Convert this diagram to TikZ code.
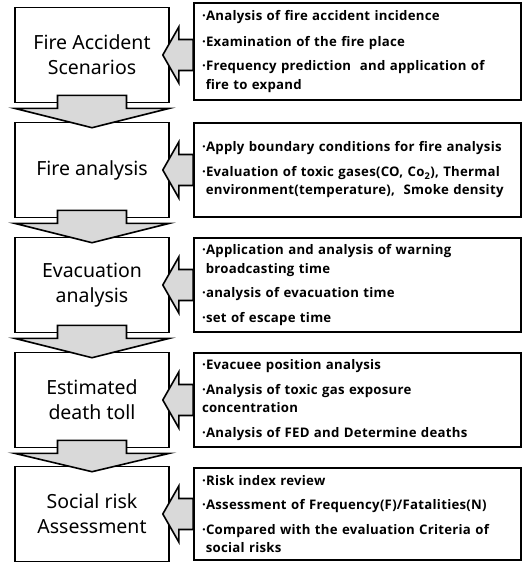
\documentclass[tikz,border=0pt]{standalone}
\usepackage{fontspec}
\setmainfont{Noto Sans}
\newfontfamily\notefont[LetterSpace=2]{Open Sans}
\usetikzlibrary{calc}

\newcommand{\dotpad}{\phantom{\textperiodcentered}}

\tikzset{
  stage/.style={draw, line width=1.6pt, minimum width=154pt, minimum height=95pt,
    align=center, inner sep=0pt, font=\fontsize{19.5}{25}\selectfont},
  notes/.style={draw, line width=1.6pt, text width=311pt, inner xsep=8pt,
    align=left, font=\notefont\bfseries\fontsize{13.2}{18.5}\selectfont},
  flow/.style={draw, line width=1.6pt, fill=gray!30, line join=miter},
}

\begin{document}
\begin{tikzpicture}[x=1pt,y=-1pt]
\useasboundingbox (0,0) rectangle (523,562);

\node[stage] (scen)  at (92,55)  {Fire Accident\\Scenarios};
\node[stage] (fire)  at (92,170) {Fire analysis};
\node[stage] (evac)  at (92,285) {Evacuation\\analysis};
\node[stage] (death) at (92,400) {Estimated\\death toll};
\node[stage] (risk)  at (92,514) {Social risk\\Assessment};

\node[notes, minimum height=97pt] (scenTxt) at (357.5,51.5) {%
  \textperiodcentered Analysis of fire accident incidence\\[7pt]
  \textperiodcentered Examination of the fire place\\[6pt]
  \textperiodcentered Frequency prediction\ \ and application of\\
  \dotpad fire to expand};
\node[notes, minimum height=94pt] (fireTxt) at (357.5,170) {%
  \textperiodcentered Apply boundary conditions for fire analysis\\[6pt]
  \textperiodcentered Evaluation of toxic gases(CO, Co\textsubscript{2}), Thermal\\
  \dotpad environment(temperature),\ \ Smoke density};
\node[notes, minimum height=94pt] (evacTxt) at (357.5,285) {%
  \textperiodcentered Application and analysis of warning\\
  \dotpad broadcasting time\\[6pt]
  \textperiodcentered analysis of evacuation time\\[6pt]
  \textperiodcentered set of escape time};
\node[notes, minimum height=94pt] (deathTxt) at (357.5,400) {%
  \textperiodcentered Evacuee position analysis\\[6pt]
  \textperiodcentered Analysis of toxic gas exposure\\
  concentration\\[6pt]
  \textperiodcentered Analysis of FED and Determine deaths};
\node[notes, minimum height=92pt] (riskTxt) at (357.5,514) {%
  \textperiodcentered Risk index review\\[6pt]
  \textperiodcentered Assessment of Frequency(F)/Fatalities(N)\\[6pt]
  \textperiodcentered Compared with the evaluation Criteria of\\
  \dotpad social risks};

% downward arrows between the stages
\foreach \a/\b in {scen/fire, fire/evac, evac/death, death/risk}
  \draw[flow] ($(\a.south)+(-34.5,-8)$) -- ($(\a.south)+(34.5,-8)$)
    -- ($(\a.south)+(34.5,5)$) -- ($(\a.south)+(77.5,5)$)
    -- ($(\b.north)+(0,6)$)
    -- ($(\a.south)+(-77.5,5)$) -- ($(\a.south)+(-34.5,5)$) -- cycle;

% arrows from the notes into the stages
\foreach \a/\t in {scen/scenTxt, fire/fireTxt, evac/evacTxt, death/deathTxt, risk/riskTxt}
  \draw[flow] ($(\t.west |- \a.east)+(0,-15.5)$) -- ($(\a.east)+(9,-15.5)$)
    -- ($(\a.east)+(9,-28)$) -- ($(\a.east)+(-7,0)$) -- ($(\a.east)+(9,28)$)
    -- ($(\a.east)+(9,15.5)$) -- ($(\t.west |- \a.east)+(0,15.5)$) -- cycle;
\end{tikzpicture}
\end{document}
